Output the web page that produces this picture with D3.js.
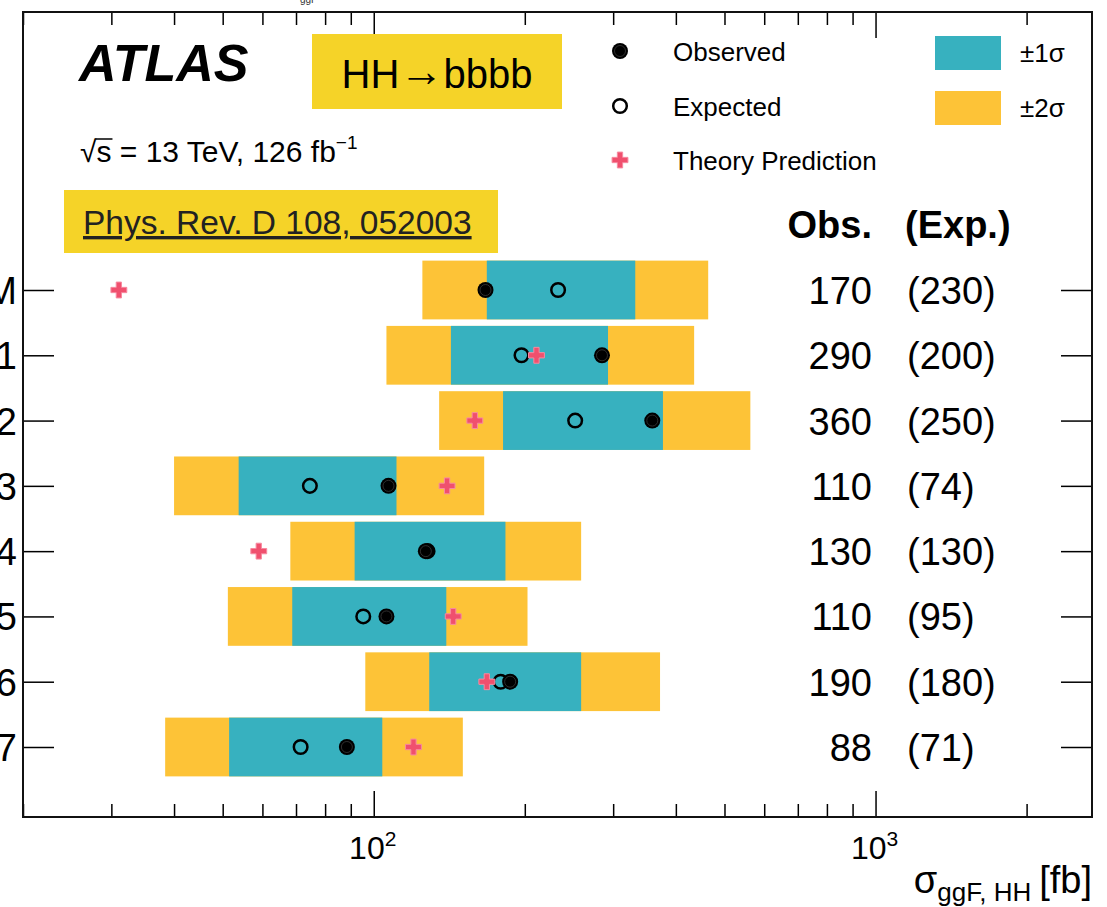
<!DOCTYPE html>
<html>
<head>
<meta charset="utf-8">
<script src="https://cdn.jsdelivr.net/npm/d3@7"></script>
<style>
  body { margin: 0; background: #fff; }
  svg { display: block; font-family: "Liberation Sans", Arial, sans-serif; }
</style>
</head>
<body>
<svg id="chart" width="1107" height="907"></svg>
<script>
// benchmark rows, top to bottom
const rows = ['SM', 'BM 1', 'BM 2', 'BM 3', 'BM 4', 'BM 5', 'BM 6', 'BM 7'];
// upper limits on sigma(ggF -> HH) [fb]
const observed = [167, 285, 359, 107, 127, 106, 187, 88.4];
const expected = [233, 197, 252, 74.6, 128, 95.3, 179, 71.5];
const theory = [31.05, 211, 159, 140, 59.0, 144, 168, 120];
const minus2s = [125, 106, 135, 40.0, 68.2, 51.2, 96.2, 38.4];
const minus1s = [168, 142.5, 181, 53.8, 91.6, 68.8, 129, 51.5];
const plus1s = [332, 293, 377, 111, 183, 139.5, 259, 104];
const plus2s = [464, 435, 563, 166, 259, 202.5, 372, 150.5];
const obsLabels = ['170', '290', '360', '110', '130', '110', '190', '88'];
const expLabels = ['(230)', '(200)', '(250)', '(74)', '(130)', '(95)', '(180)', '(71)'];
const majorTicks = [100, 1000];
const minorTicks = [20, 30, 40, 50, 60, 70, 80, 90, 200, 300, 400, 500, 600, 700, 800, 900, 2000];

const C1 = '#37b1bf', C2 = '#fdc337', YEL = '#f5d328', PINK = '#f0506e';

const svg = d3.select('#chart');
const frameL = 23, frameR = 1092, frameT = 12, frameB = 817;

const x = d3.scaleLog().domain([20, 2700]).range([frameL, frameR]);
const y = d3.scalePoint().domain(rows).range([290, 747]);
const bh = y.step() * 0.9;

// bands
const g = svg.append('g');
rows.forEach((r, i) => {
  g.append('rect')
    .attr('x', x(minus2s[i])).attr('y', y(r) - bh / 2)
    .attr('width', x(plus2s[i]) - x(minus2s[i])).attr('height', bh)
    .attr('fill', C2);
  g.append('rect')
    .attr('x', x(minus1s[i])).attr('y', y(r) - bh / 2)
    .attr('width', x(plus1s[i]) - x(minus1s[i])).attr('height', bh)
    .attr('fill', C1);
});

const cross = d3.symbol().type(d3.symbolCross).size(140);

function drawExp(sel, cx, cy) {
  sel.append('circle').attr('cx', cx).attr('cy', cy).attr('r', 6.8)
    .attr('fill', 'none').attr('stroke', '#000').attr('stroke-width', 2.5);
}
function drawObs(sel, cx, cy) {
  sel.append('circle').attr('cx', cx).attr('cy', cy).attr('r', 8)
    .attr('fill', '#000');
  sel.append('circle').attr('cx', cx).attr('cy', cy).attr('r', 5.5)
    .attr('fill', 'none').attr('stroke', '#3a3a3a').attr('stroke-width', 0.8);
}
function drawTheory(sel, cx, cy) {
  sel.append('path').attr('d', cross)
    .attr('transform', `translate(${cx},${cy})`)
    .attr('fill', PINK).attr('stroke', '#f78aa0').attr('stroke-width', 1);
}

rows.forEach((r, i) => {
  drawExp(g, x(expected[i]), y(r));
  drawTheory(g, x(theory[i]), y(r));
  drawObs(g, x(observed[i]), y(r));
});

// axes (ticks pointing inward)
function tickAxes(axisFn, pos, vals, size) {
  return svg.append('g')
    .attr('transform', pos)
    .call(axisFn.tickValues(vals).tickSize(size).tickFormat(''))
    .call(a => a.select('.domain').remove())
    .call(a => a.selectAll('line').attr('stroke', '#000').attr('stroke-width', 1.5));
}
tickAxes(d3.axisTop(x), `translate(0,${frameB})`, majorTicks, 26);
tickAxes(d3.axisTop(x), `translate(0,${frameB})`, minorTicks, 13);
tickAxes(d3.axisBottom(x), `translate(0,${frameT})`, majorTicks, 26);
tickAxes(d3.axisBottom(x), `translate(0,${frameT})`, minorTicks, 13);
tickAxes(d3.axisRight(y), `translate(${frameL},0)`, rows, 31);
tickAxes(d3.axisLeft(y), `translate(${frameR},0)`, rows, 31);

svg.append('rect')
  .attr('x', frameL).attr('y', frameT).attr('width', frameR - frameL).attr('height', frameB - frameT)
  .attr('fill', 'none').attr('stroke', '#111').attr('stroke-width', 2);

// x tick labels 10^n
majorTicks.forEach(v => {
  const t = svg.append('text').attr('x', x(v) - 1).attr('y', 859)
    .attr('text-anchor', 'middle').attr('font-size', 32);
  t.append('tspan').text('10');
  t.append('tspan').attr('dy', -13).attr('font-size', 21).text(Math.log10(v));
});

// y labels (partly outside the picture, as in the cropped original)
svg.append('g').selectAll('text').data(rows).join('text')
  .attr('x', 17).attr('y', d => y(d) + 14)
  .attr('text-anchor', 'end').attr('font-size', 38)
  .text(d => d);

// x axis title
const xt = svg.append('text').attr('x', frameR).attr('y', 893)
  .attr('text-anchor', 'end').attr('font-size', 38);
xt.append('tspan').text('σ');
xt.append('tspan').attr('dy', 8).attr('font-size', 26).text('ggF, HH');
xt.append('tspan').attr('dy', -8).attr('dx', 8).text('[fb]');

// values column
const cols = svg.append('g').attr('font-size', 38);
cols.append('text').attr('x', 872).attr('y', 238).attr('text-anchor', 'end')
  .attr('font-weight', 'bold').text('Obs.');
cols.append('text').attr('x', 905).attr('y', 238)
  .attr('font-weight', 'bold').text('(Exp.)');
rows.forEach((r, i) => {
  cols.append('text').attr('x', 872).attr('y', y(r) + 14).attr('text-anchor', 'end').text(obsLabels[i]);
  cols.append('text').attr('x', 907).attr('y', y(r) + 14).text(expLabels[i]);
});

// ATLAS label and info
svg.append('text').attr('x', 300).attr('y', 3).attr('font-size', 10).attr('fill', '#333').text('ggF');
svg.append('text').attr('x', 79).attr('y', 81)
  .attr('font-size', 52).attr('font-weight', 'bold').attr('font-style', 'italic').text('ATLAS');

svg.append('rect').attr('x', 312).attr('y', 34).attr('width', 250).attr('height', 75).attr('fill', YEL);
const hh = svg.append('text').attr('x', 437).attr('y', 88).attr('text-anchor', 'middle')
  .attr('font-size', 40);
hh.append('tspan').text('HH');
hh.append('tspan').attr('font-size', 44).attr('dy', -2).text('→');
hh.append('tspan').attr('dy', 2).text('bbbb');

const lumi = svg.append('text').attr('x', 80).attr('y', 162).attr('font-size', 30);
lumi.append('tspan').text('√');
lumi.append('tspan').attr('class', 'sq').text('s');
lumi.append('tspan').text(' = 13 TeV, 126 fb');
lumi.append('tspan').attr('dy', -13).attr('font-size', 19).text('−1');
const sq = lumi.select('.sq').node().getBBox();
svg.append('line').attr('x1', sq.x - 1).attr('x2', sq.x + sq.width + 1)
  .attr('y1', sq.y + 4).attr('y2', sq.y + 4).attr('stroke', '#000').attr('stroke-width', 1.5);

svg.append('rect').attr('x', 64).attr('y', 190).attr('width', 434).attr('height', 63).attr('fill', YEL);
svg.append('text').attr('x', 83).attr('y', 234).attr('font-size', 33.5)
  .attr('text-decoration', 'underline').attr('fill', '#222').text('Phys. Rev. D 108, 052003');

// legend
const lg = svg.append('g').attr('font-size', 26);
drawObs(lg, 620, 51);
drawExp(lg, 620, 106);
drawTheory(lg, 620, 160);
lg.append('text').attr('x', 673).attr('y', 61).text('Observed');
lg.append('text').attr('x', 673).attr('y', 116).text('Expected');
lg.append('text').attr('x', 673).attr('y', 170).text('Theory Prediction');
lg.append('rect').attr('x', 935).attr('y', 36).attr('width', 66).attr('height', 34).attr('fill', C1);
lg.append('rect').attr('x', 935).attr('y', 91).attr('width', 66).attr('height', 34).attr('fill', C2);
lg.append('text').attr('x', 1020).attr('y', 62).text('±1σ');
lg.append('text').attr('x', 1020).attr('y', 117).text('±2σ');
</script>
</body>
</html>
